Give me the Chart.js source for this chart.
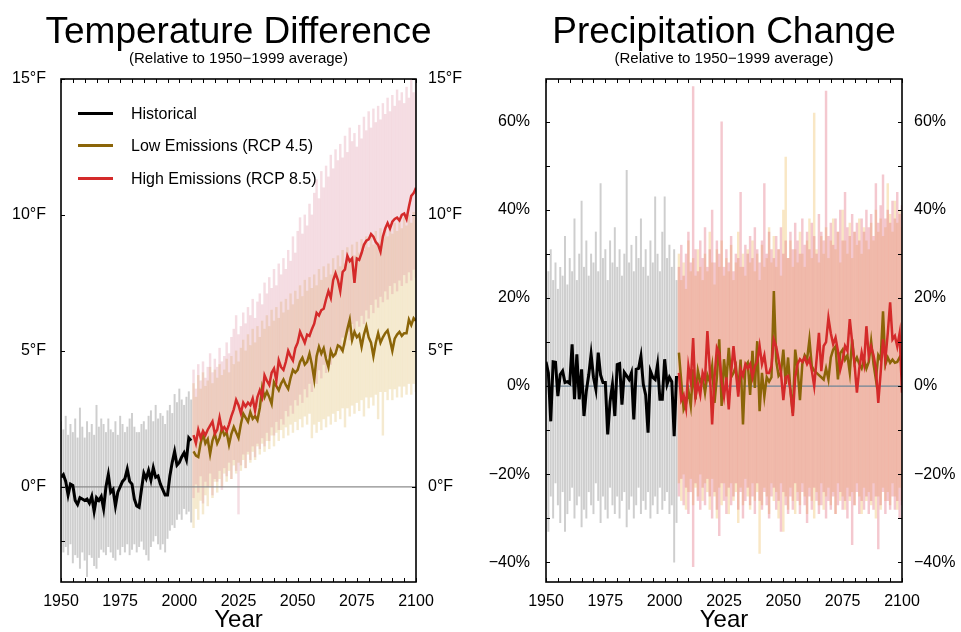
<!DOCTYPE html>
<html lang="en">
<head>
<meta charset="UTF-8">
<title>Temperature Difference / Precipitation Change</title>
<script src="https://cdn.jsdelivr.net/npm/chart.js"></script>
<style>
    body { margin: 0; background: #fff; font-family: 'Liberation Sans', Arial, sans-serif; color: #000; }
    .panel { position: absolute; top: 0; height: 632px; }
    .title { position: absolute; top: 12px; font-size: 37px; line-height: 37px; text-align: center; white-space: nowrap; }
    .sub { position: absolute; top: 50px; font-size: 15px; line-height: 15px; text-align: center; white-space: nowrap; }
    .legend { position: absolute; left: 78px; top: 0; font-size: 16px; line-height: 16px; }
    .legend div { position: absolute; white-space: nowrap; }
    .legend span { position: absolute; left: 0; width: 35px; height: 3px; }
</style>
</head>
<body>

<div class="panel" style="left:0;width:480px">
    <canvas id="tempChart"></canvas>
    <div class="title" style="left:0;width:477px">Temperature Difference</div>
    <div class="sub" style="left:0;width:477px">(Relative to 1950&minus;1999 average)</div>
    <div class="legend">
        <div style="top:106px"><span style="top:6px;background:#000"></span><b style="font-weight:normal;margin-left:53px">Historical</b></div>
        <div style="top:138px"><span style="top:6px;background:#8B6508"></span><b style="font-weight:normal;margin-left:53px">Low Emissions (RCP 4.5)</b></div>
        <div style="top:171px"><span style="top:6px;background:#D42A2A"></span><b style="font-weight:normal;margin-left:53px">High Emissions (RCP 8.5)</b></div>
    </div>
</div>

<div class="panel" style="left:480px;width:481px">
    <canvas id="precipChart"></canvas>
    <div class="title" style="left:0;width:488px">Precipitation Change</div>
    <div class="sub" style="left:0;width:488px">(Relative to 1950&minus;1999 average)</div>
</div>

<script>
// years: historical runs 1950-2005, projections 2006-2100
const histStart = 1950;
const projStart = 2006;
const yearTicks = [1950, 1975, 2000, 2025, 2050, 2075, 2100];
const tempTicks = [0, 5, 10, 15];
const precipTicks = [-40, -20, 0, 20, 40, 60];

// ---- temperature (°F) ----
const tempHist = [0.35, 0.45, 0.2, -0.3, 0.1, 0.05, -0.5, -0.65, -0.4, -0.45,
    -0.5, -0.45, -0.6, -0.35, -0.9, -0.4, -0.5, -0.35, -0.8, 0.0,
    0.45, -0.2, -0.1, -0.7, -0.2, 0.0, 0.2, 0.3, 0.65, 0.2,
    0.1, -0.45, -0.7, -0.75, -0.1, 0.5, 0.3, 0.6, 0.25, 0.7,
    0.35, 0.4, 0.1, -0.1, -0.3, -0.3, 0.4, 0.9, 1.3, 0.8,
    0.9, 1.1, 1.25, 1.0, 1.8, 1.7];
const tempLow = [1.3, 1.15, 1.1, 1.6, 1.95, 1.6, 1.75, 1.2, 1.7, 1.95,
    1.6, 1.8, 2.15, 1.9, 2.0, 1.55, 1.95, 2.2, 2.0, 1.8,
    2.3, 2.7, 2.55, 2.4, 2.75, 2.5, 2.6, 2.45, 2.9, 3.65,
    3.3, 3.5, 3.3, 3.05, 3.85, 3.7, 3.55, 3.8, 3.95, 3.75,
    3.6, 4.0, 4.3, 4.2, 4.3, 4.6, 4.75, 4.5, 4.6, 4.9,
    4.5, 3.95, 4.8, 5.15, 4.9, 5.1, 4.7, 4.4, 5.0, 4.8,
    4.9, 5.2, 5.15, 5.0, 5.4, 5.8, 6.15, 5.4, 5.7, 5.5,
    5.6, 5.15, 5.6, 5.9, 5.5, 5.3, 4.8, 5.3, 5.65, 5.3,
    5.5, 5.65, 5.75, 5.4, 5.0, 5.45, 5.6, 5.7, 5.55, 5.65,
    5.65, 6.15, 5.95, 6.2, 6.1];
const tempHigh = [1.9, 1.6, 2.1, 1.8, 2.05, 1.9, 2.1, 2.25, 2.4, 1.95,
    2.1, 2.55, 2.1, 2.2, 2.05, 2.3, 2.6, 2.85, 3.2, 3.0,
    2.7, 3.1, 2.95, 3.1, 3.0, 3.25, 2.8, 3.3, 3.55, 3.3,
    4.1, 3.9, 3.75, 4.2, 4.35, 3.9, 4.65, 4.4, 4.3, 4.6,
    5.0, 4.8, 4.65, 5.1, 5.3, 5.7, 5.5, 5.3, 5.6, 5.55,
    5.8, 6.0, 6.4, 6.3, 6.5, 6.55, 6.9, 7.2, 6.95, 7.6,
    7.85, 7.6, 7.2, 7.9, 8.0, 8.5, 8.3, 8.4, 7.5, 8.4,
    8.35, 8.6, 8.9, 9.05, 9.1, 9.3, 9.2, 9.0, 8.9, 8.65,
    9.2, 9.5, 9.7, 9.5, 9.75, 9.85, 9.9, 9.8, 10.0, 10.05,
    9.85, 10.3, 10.7, 10.8, 11.0];

// model spread (min / max of the ensemble members per year)
const tempHistHi = [2.4, 2.1, 2.6, 1.9, 2.3, 2.0, 2.5, 1.8, 2.9, 2.2,
    1.8, 2.4, 2.0, 2.3, 1.9, 3.0, 2.2, 2.5, 2.3, 2.0,
    2.5, 2.1, 2.0, 2.4, 1.9, 2.6, 2.3, 2.0, 2.2, 2.5,
    2.7, 2.2, 2.0, 2.0, 2.3, 2.4, 2.1, 2.6, 2.8, 2.4,
    3.0, 2.5, 2.7, 2.6, 2.3, 2.8, 3.0, 2.7, 3.4, 3.1,
    3.6, 3.2, 3.0, 3.3, 3.5, 3.2];
const tempHistLo = [-2.0, -2.4, -2.2, -2.5, -2.1, -2.8, -2.5, -2.6, -3.0, -2.4,
    -2.7, -3.3, -2.5, -2.6, -2.9, -3.0, -2.6, -2.3, -2.4, -2.5,
    -2.2, -2.4, -2.6, -2.7, -2.3, -2.5, -2.2, -2.4, -2.1, -2.5,
    -2.3, -2.1, -2.4, -2.2, -2.0, -2.3, -2.5, -2.7, -2.2, -2.0,
    -1.8, -2.1, -2.3, -2.1, -2.4, -1.9, -1.6, -1.4, -1.5, -1.2,
    -1.0, -1.2, -0.8, -1.0, -0.9, -1.3];
const tempLowHi = [3.8, 3.3, 4.1, 3.6, 4.2, 3.7, 3.9, 4.4, 3.8, 4.3,
    4.0, 4.5, 4.1, 4.3, 4.7, 4.2, 4.8, 4.5, 5.0, 4.6,
    5.1, 5.4, 5.0, 5.6, 5.2, 5.8, 5.3, 5.9, 5.5, 6.1,
    5.8, 6.3, 5.9, 6.5, 6.1, 6.6, 6.2, 6.8, 6.4, 6.9,
    6.5, 7.1, 6.7, 7.2, 6.9, 7.4, 7.0, 7.6, 7.2, 7.7,
    7.3, 7.8, 7.4, 8.0, 7.6, 8.1, 7.7, 8.2, 7.8, 8.4,
    8.0, 8.5, 8.1, 8.7, 8.2, 8.8, 8.4, 8.9, 8.5, 9.0,
    8.6, 9.1, 8.7, 9.2, 8.8, 9.3, 8.9, 9.4, 9.0, 9.5,
    9.1, 9.5, 9.2, 9.6, 9.3, 9.7, 9.4, 9.8, 9.5, 9.9,
    9.6, 10.0, 9.7, 10.1, 9.8];
const tempLowLo = [-1.5, -0.8, -1.2, -0.5, -1.0, -0.3, -0.7, 0.0, -0.4, 0.2,
    -0.2, 0.3, 0.0, 0.5, 0.2, 0.6, 0.3, 0.8, 0.5, 0.9,
    0.6, 1.0, 0.7, 1.2, 0.9, 1.3, 1.0, 1.5, 1.2, 1.6,
    1.3, 1.7, 1.4, 1.9, 1.5, 2.0, 1.7, 2.1, 1.8, 2.2,
    1.9, 2.3, 2.0, 2.4, 2.1, 2.5, 2.2, 2.6, 2.3, 2.7,
    1.8, 2.3, 2.0, 2.4, 2.1, 2.5, 2.2, 2.6, 2.3, 2.7,
    2.4, 2.8, 2.5, 2.9, 2.2, 2.9, 2.6, 3.0, 2.7, 3.1,
    2.8, 3.2, 2.6, 3.3, 2.9, 3.3, 3.0, 3.4, 2.5, 3.5,
    1.9, 3.5, 3.2, 3.6, 3.2, 3.6, 3.3, 3.7, 3.3, 3.7,
    3.4, 3.8, 3.4, 3.8, 3.5];
const tempHighHi = [4.3, 3.6, 4.5, 3.9, 4.6, 4.0, 4.4, 4.9, 4.2, 4.7,
    4.4, 5.1, 4.6, 4.8, 5.3, 4.9, 5.5, 5.8, 6.3, 5.6,
    5.9, 6.4, 6.0, 6.6, 6.3, 6.9, 6.2, 6.8, 7.1, 6.7,
    7.5, 7.1, 7.7, 7.3, 8.0, 7.4, 8.2, 7.8, 8.4, 8.0,
    8.7, 8.3, 9.2, 8.6, 9.4, 9.9, 9.3, 10.0, 9.6, 10.4,
    10.0, 10.8, 11.3, 10.6, 11.6, 11.0, 11.8, 11.4, 12.2, 11.7,
    12.4, 12.0, 12.6, 12.1, 12.9, 12.3, 13.2, 12.7, 13.0, 12.5,
    13.3, 12.8, 13.6, 13.1, 13.8, 13.2, 13.9, 13.4, 14.0, 13.5,
    14.1, 13.7, 14.3, 13.8, 14.4, 14.0, 14.6, 14.2, 14.5, 14.1,
    14.7, 14.3, 15.0, 14.5, 15.0];
const tempHighLo = [-0.4, 0.1, -0.2, 0.4, -0.6, 0.2, 0.0, 0.5, -0.3, 0.3,
    0.2, 0.6, -0.1, 0.7, 0.4, 0.9, 0.3, 1.0, 0.6, -1.0,
    0.8, 1.2, 0.7, 1.3, 1.0, 1.5, 1.1, 1.6, 1.4, 1.8,
    1.5, 2.0, 1.7, 2.2, 1.9, 2.4, 2.1, 2.5, 2.3, 2.8,
    2.6, 3.0, 2.7, 3.2, 3.0, 3.4, 3.1, 3.6, 3.3, 3.8,
    3.5, 4.0, 3.8, 4.3, 4.0, 4.5, 4.2, 4.8, 4.5, 5.0,
    4.8, 5.2, 5.0, 5.5, 5.2, 5.7, 5.4, 6.0, 5.6, 6.1,
    5.9, 6.3, 6.0, 6.5, 6.2, 6.7, 6.4, 6.9, 6.6, 7.0,
    6.8, 7.2, 6.9, 7.4, 7.1, 7.5, 7.2, 7.6, 7.4, 7.8,
    7.5, 7.9, 7.6, 8.0, 7.7];

// ---- precipitation (%) ----
const precipHist = [5.5, 3.0, -8.0, 5.5, 5.4, -2.3, 2.6, 3.4, 0.8, 1.0,
    0.6, 9.5, -3.0, 7.2, -3.0, 3.8, -6.8, -1.1, 2.5, 7.2,
    2.0, -0.7, 7.6, 2.5, 0.8, 0.8, -11.0, -3.5, 0.4, -6.8,
    4.9, 5.1, -4.2, 3.1, 2.3, 1.5, 3.0, -7.6, 3.8, 4.0,
    6.8, 0.4, -2.0, -10.6, 3.4, 2.0, 1.5, 4.9, -3.0, -3.0,
    6.1, 0.4, 2.0, 1.0, -11.4, 2.3];
const precipLow = [7.6, 1.0, -5.3, -4.0, -1.0, -4.5, 3.8, -3.0, 3.5, 1.0,
    2.0, -1.5, 2.5, 1.0, 4.5, -3.8, 2.0, 10.6, -4.5, 6.1,
    1.0, 8.7, 2.0, 3.0, 4.5, -1.0, 6.0, -8.7, 4.5, 5.3,
    -2.0, 8.0, -0.4, 10.2, -5.7, 3.0, -2.4, 2.0, 1.0, 2.0,
    21.6, 5.7, 2.3, 3.0, 8.3, 0.5, 6.5, -1.0, -6.1, 8.3,
    4.0, -3.2, 5.0, 7.0, 6.0, 10.6, 4.5, 3.5, 3.0, 2.5,
    2.0, 1.5, 4.0, 1.5, 6.5, 8.3, 9.0, 1.5, 7.5, 8.3,
    6.0, 7.0, 3.0, 10.6, 5.3, 6.5, 5.0, 4.0, 6.0, 4.0,
    5.5, 10.2, 5.0, 1.5, 7.0, 6.0, 17.0, 4.9, 6.5, 5.3,
    6.0, 5.3, 5.5, 6.5, 5.5];
const precipHigh = [3.0, -3.2, -2.0, -5.0, 4.5, 1.0, 10.9, -2.4, 0.5, -2.0,
    3.0, 1.5, 12.5, 4.0, -8.7, 2.0, 8.7, 7.5, 1.0, -2.4,
    2.0, -5.3, 3.0, 9.1, 3.5, -2.4, 3.8, 2.3, 5.0, 4.0,
    5.0, 2.0, 4.5, 5.5, 9.1, 5.0, 7.0, 3.0, 3.0, 4.5,
    10.5, 9.0, 6.0, 3.0, -3.2, 2.0, 2.3, -1.0, -6.8, 2.0,
    5.0, 6.1, 5.5, 6.5, 5.0, 6.1, 3.5, 0.0, 6.0, 12.1,
    3.4, 9.1, 10.0, 15.5, 12.0, 9.5, 11.0, 8.0, 3.8, 6.0,
    9.1, 8.0, 15.2, 10.0, 5.0, -1.5, 4.0, 7.6, 5.0, 13.6,
    6.8, 9.0, 7.0, 4.0, -3.8, 3.0, 10.6, 6.0, 12.0, 19.0,
    10.6, 11.4, 9.0, 12.0, -1.5];

const precipHistHi = [30, 26, 31, 24, 28, 22, 27, 25, 34, 23,
    29, 26, 38, 24, 30, 42, 27, 33, 25, 30,
    28, 35, 26, 46, 29, 31, 24, 33, 28, 36,
    27, 31, 25, 30, 49, 28, 32, 26, 34, 29,
    38, 27, 31, 25, 33, 28, 43, 30, 26, 35,
    43, 29, 32, 27, 31, 24];
const precipHistLo = [-28, -33, -25, -30, -22, -27, -31, -24, -33, -29,
    -26, -23, -30, -27, -25, -32, -28, -30, -24, -27,
    -29, -22, -26, -31, -25, -28, -30, -23, -27, -29,
    -25, -30, -26, -24, -32, -28, -25, -30, -27, -23,
    -29, -26, -28, -24, -30, -27, -25, -29, -23, -28,
    -26, -24, -29, -27, -40, -31];
const precipLowHi = [30, 24, 28, 22, 33, 26, 29, 25, 31, 27,
    24, 30, 26, 35, 28, 23, 31, 27, 33, 25,
    29, 26, 32, 24, 28, 35, 27, 30, 25, 31,
    28, 33, 26, 30, 24, 32, 27, 29, 36, 28,
    34, 27, 31, 25, 40, 52, 29, 33, 27, 31,
    28, 35, 30, 27, 33, 38, 29, 62, 31, 28,
    34, 30, 36, 29, 33, 38, 31, 35, 28, 40,
    33, 30, 37, 29, 35, 32, 38, 30, 36, 33,
    31, 37, 33, 40, 35, 38, 34, 36, 46, 39,
    35, 42, 37, 40, 36];
const precipLowLo = [-22, -26, -20, -28, -24, -21, -27, -23, -25, -20,
    -26, -22, -24, -28, -21, -25, -30, -23, -27, -22,
    -25, -29, -22, -26, -24, -31, -23, -27, -21, -25,
    -28, -22, -26, -24, -38, -27, -23, -25, -29, -22,
    -26, -24, -30, -22, -33, -25, -28, -23, -26, -29,
    -24, -27, -22, -25, -29, -23, -26, -30, -24, -27,
    -22, -28, -25, -23, -27, -24, -29, -22, -26, -25,
    -28, -23, -26, -24, -27, -22, -25, -29, -23, -26,
    -24, -27, -22, -30, -25, -28, -23, -26, -24, -27,
    -22, -25, -28, -23, -26];
const precipHighHi = [27, 32, 25, 30, 35, 28, 68, 31, 26, 33,
    29, 36, 27, 31, 40, 28, 33, 30, 60, 27,
    31, 28, 34, 26, 30, 29, 44, 27, 32, 30,
    34, 29, 36, 31, 28, 33, 46, 30, 35, 31,
    29, 34, 31, 36, 30, 33, 29, 35, 31, 37,
    33, 30, 38, 32, 35, 31, 37, 34, 30, 39,
    35, 33, 67, 34, 37, 32, 38, 35, 40, 33,
    44, 36, 34, 39, 35, 37, 33, 38, 35, 40,
    36, 39, 34, 46, 37, 41, 48, 38, 40, 37,
    42, 38, 44, 39, 41];
const precipHighLo = [-25, -21, -27, -23, -29, -24, -41, -22, -26, -28,
    -23, -27, -21, -25, -30, -24, -28, -34, -22, -26,
    -29, -23, -27, -25, -22, -28, -24, -30, -26, -23,
    -27, -25, -29, -22, -26, -28, -24, -27, -30, -25,
    -23, -28, -26, -33, -24, -27, -29, -25, -28, -22,
    -26, -29, -24, -27, -31, -25, -28, -23, -26, -29,
    -27, -24, -30, -26, -28, -25, -29, -27, -24, -28,
    -26, -30, -25, -36, -27, -24, -29, -26, -28, -25,
    -29, -26, -28, -25, -37, -27, -24, -29, -26, -28,
    -25, -28, -26, -30, -27];

// helpers to turn the arrays into {x, y} points
function pts(vals, start) {
    return vals.map((v, i) => ({ x: start + i, y: v }));
}
function spans(lo, hi, start) {
    return lo.map((v, i) => ({ x: start + i, y: [v, hi[i]] }));
}

// minor ticks every 5 years
const minorYears = [];
for (let yr = 1950; yr <= 2100; yr += 5) minorYears.push(yr);

// draws the box around the plot and the inward tick marks
const frameTicks = {
    id: 'frameTicks',
    afterDraw(chart, args, opts) {
        const ctx = chart.ctx;
        const a = chart.chartArea;
        const xs = chart.scales.x, ys = chart.scales.y;
        const tl = 4;
        ctx.save();
        ctx.strokeStyle = '#000';
        ctx.lineWidth = 1;
        ctx.beginPath();
        minorYears.forEach(v => {
            const px = Math.round(xs.getPixelForValue(v)) + 0.5;
            ctx.moveTo(px, a.bottom); ctx.lineTo(px, a.bottom - tl);
            ctx.moveTo(px, a.top); ctx.lineTo(px, a.top + tl);
        });
        opts.leftTicks.forEach(v => {
            const py = Math.round(ys.getPixelForValue(v)) + 0.5;
            ctx.moveTo(a.left, py); ctx.lineTo(a.left + tl, py);
        });
        opts.rightTicks.forEach(v => {
            const py = Math.round(ys.getPixelForValue(v)) + 0.5;
            ctx.moveTo(a.right, py); ctx.lineTo(a.right - tl, py);
        });
        ctx.stroke();
        ctx.lineWidth = 1.6;
        ctx.strokeRect(a.left, a.top, a.right - a.left, a.bottom - a.top);
        ctx.restore();
    }
};

function makePanel(id, p) {
    const yAxis = (pos, width, pad) => ({
        position: pos,
        min: p.min, max: p.max,
        afterBuildTicks: s => { s.ticks = p.ticks.map(v => ({ value: v })); },
        afterFit: s => { s.width = width; },
        ticks: { callback: p.fmt, font: { size: 16 }, color: '#000', padding: pad },
        grid: { display: false, drawTicks: false },
        border: { display: false }
    });
    const datasets = [
        { type: 'bar', data: spans(p.histLo, p.histHi, histStart), backgroundColor: 'rgba(165,165,165,0.55)', barThickness: 1.3, grouped: false, order: 10 },
        { type: 'bar', data: spans(p.lowLo, p.lowHi, projStart), backgroundColor: p.lowHaze, barThickness: 1.8, grouped: false, order: 9 },
        { type: 'bar', data: spans(p.highLo, p.highHi, projStart), backgroundColor: p.highHaze, barThickness: 1.8, grouped: false, order: 8 },
        { type: 'line', data: [{ x: 1950, y: 0 }, { x: 2100, y: 0 }], borderColor: p.zeroColor, borderWidth: 1.2, pointRadius: 0, order: 5 },
        { type: 'line', label: 'Historical', data: pts(p.hist, histStart), borderColor: '#000000', borderWidth: 3, pointRadius: 0, order: 3 },
        { type: 'line', label: 'Low Emissions (RCP 4.5)', data: pts(p.low, projStart), borderColor: '#8B6508', borderWidth: 2.5, pointRadius: 0, order: 2 },
        { type: 'line', label: 'High Emissions (RCP 8.5)', data: pts(p.high, projStart), borderColor: '#D42A2A', borderWidth: 2.5, pointRadius: 0, order: 1 }
    ];
    return new Chart(document.getElementById(id), {
        type: 'line',
        data: { datasets: datasets },
        options: {
            responsive: true,
            maintainAspectRatio: false,
            animation: false,
            layout: { padding: { top: 79, bottom: 0, left: 0, right: 0 } },
            plugins: {
                legend: { display: false },
                tooltip: { enabled: false },
                frameTicks: { leftTicks: p.leftTicks, rightTicks: p.rightTicks }
            },
            scales: {
                x: {
                    type: 'linear', min: 1950, max: 2100, offset: false,
                    afterBuildTicks: s => { s.ticks = yearTicks.map(v => ({ value: v })); },
                    afterFit: s => { s.height = 50; },
                    ticks: { callback: v => String(v), font: { size: 16 }, color: '#000', padding: 10, maxRotation: 0, autoSkip: false },
                    grid: { display: false, drawTicks: false, offset: false },
                    border: { display: false },
                    title: { display: true, text: 'Year', font: { size: 24 }, color: '#000', padding: { top: 0, bottom: -3 } }
                },
                y: yAxis('left', p.leftW, p.leftPad),
                y2: yAxis('right', p.rightW, p.rightPad)
            }
        },
        plugins: [frameTicks]
    });
}

Chart.defaults.font.family = "'Liberation Sans', Arial, sans-serif";

makePanel('tempChart', {
    min: -3.5, max: 15, ticks: tempTicks,
    fmt: v => v + '\u00B0F',
    leftW: 61, leftPad: 15, rightW: 64, rightPad: 12,
    leftTicks: [-2, 0, 5, 10, 15], rightTicks: tempTicks,
    zeroColor: '#8c8c8c',
    hist: tempHist, low: tempLow, high: tempHigh,
    histLo: tempHistLo, histHi: tempHistHi,
    lowLo: tempLowLo, lowHi: tempLowHi, highLo: tempHighLo, highHi: tempHighHi,
    lowHaze: 'rgba(222,185,100,0.30)', highHaze: 'rgba(215,125,145,0.26)'
});

const precipMinor = [-40, -30, -20, -10, 0, 10, 20, 30, 40, 50, 60];
makePanel('precipChart', {
    min: -44.5, max: 69.75, ticks: precipTicks,
    fmt: v => (v < 0 ? '\u2212' + Math.abs(v) : v) + '%',
    leftW: 66, leftPad: 16, rightW: 59, rightPad: 12,
    leftTicks: precipMinor, rightTicks: precipMinor,
    zeroColor: '#6f8596',
    hist: precipHist, low: precipLow, high: precipHigh,
    histLo: precipHistLo, histHi: precipHistHi,
    lowLo: precipLowLo, lowHi: precipLowHi, highLo: precipHighLo, highHi: precipHighHi,
    lowHaze: 'rgba(238,185,90,0.35)', highHaze: 'rgba(225,105,125,0.37)'
});
</script>
</body>
</html>
